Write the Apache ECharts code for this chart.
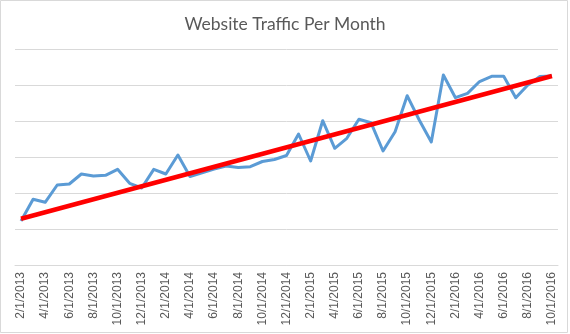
<!DOCTYPE html>
<html>
<head>
<meta charset="utf-8">
<script src="https://cdn.jsdelivr.net/npm/echarts@6/dist/echarts.min.js"></script>
<style>
  html, body { margin: 0; padding: 0; background: #fff; }
  #chart { width: 570px; height: 334px; }
</style>
</head>
<body>
<div id="chart"></div>
<script>
// Monthly categories, Feb 2013 through Oct 2016
const months = [
  '2/1/2013','3/1/2013','4/1/2013','5/1/2013','6/1/2013','7/1/2013','8/1/2013','9/1/2013','10/1/2013','11/1/2013','12/1/2013',
  '1/1/2014','2/1/2014','3/1/2014','4/1/2014','5/1/2014','6/1/2014','7/1/2014','8/1/2014','9/1/2014','10/1/2014','11/1/2014','12/1/2014',
  '1/1/2015','2/1/2015','3/1/2015','4/1/2015','5/1/2015','6/1/2015','7/1/2015','8/1/2015','9/1/2015','10/1/2015','11/1/2015','12/1/2015',
  '1/1/2016','2/1/2016','3/1/2016','4/1/2016','5/1/2016','6/1/2016','7/1/2016','8/1/2016','9/1/2016','10/1/2016'
];

// Visits per month
const traffic = [
  1222, 1825, 1742, 2222, 2250, 2528, 2472, 2492, 2658, 2269, 2139,
  2658, 2528, 3056, 2458, 2564, 2667, 2750, 2708, 2731, 2875, 2931, 3042,
  3639, 2889, 4008, 3242, 3519, 4047, 3953, 3167, 3703, 4703, 4028, 3417,
  5278, 4647, 4769, 5097, 5242, 5242, 4647, 5000, 5236, 5250
];

// Linear trend line end points (first and last month)
const trendStart = 1286;
const trendEnd = 5250;

const chart = echarts.init(document.getElementById('chart'));
chart.setOption({
  animation: false,
  backgroundColor: '#ffffff',
  title: {
    text: 'Website Traffic Per Month',
    left: 'center',
    top: 10,
    textStyle: {
      fontFamily: 'Lato',
      fontWeight: 'normal',
      fontSize: 17.5,
      color: '#595959'
    }
  },
  grid: { left: 15, right: 12, top: 49, bottom: 69 },
  xAxis: {
    type: 'category',
    data: months,
    boundaryGap: true,
    axisLine: { lineStyle: { color: '#d9d9d9', width: 1 } },
    axisTick: { interval: 1, length: 5, lineStyle: { color: '#d9d9d9' } },
    axisLabel: {
      interval: 1,
      rotate: 90,
      margin: 7,
      fontFamily: 'Liberation Sans',
      fontSize: 12,
      color: '#595959'
    }
  },
  yAxis: {
    type: 'value',
    min: 0,
    max: 6000,
    interval: 1000,
    axisLine: { show: false },
    axisTick: { show: false },
    axisLabel: { show: false },
    splitLine: { lineStyle: { color: '#d9d9d9', width: 1 } }
  },
  series: [
    {
      name: 'Traffic',
      type: 'line',
      data: traffic,
      symbol: 'none',
      lineStyle: { color: '#5b9bd5', width: 3, join: 'round' },
      z: 2
    },
    {
      name: 'Trend',
      type: 'line',
      data: [[months[0], trendStart], [months[months.length - 1], trendEnd]],
      symbol: 'none',
      lineStyle: { color: '#ff0000', width: 4.5 },
      z: 3
    }
  ],
  graphic: [
    {
      type: 'rect',
      shape: { x: 0.5, y: 0.5, width: 567, height: 332 },
      style: { fill: 'none', stroke: '#d9d9d9', lineWidth: 1 },
      silent: true
    }
  ]
});
</script>
</body>
</html>
